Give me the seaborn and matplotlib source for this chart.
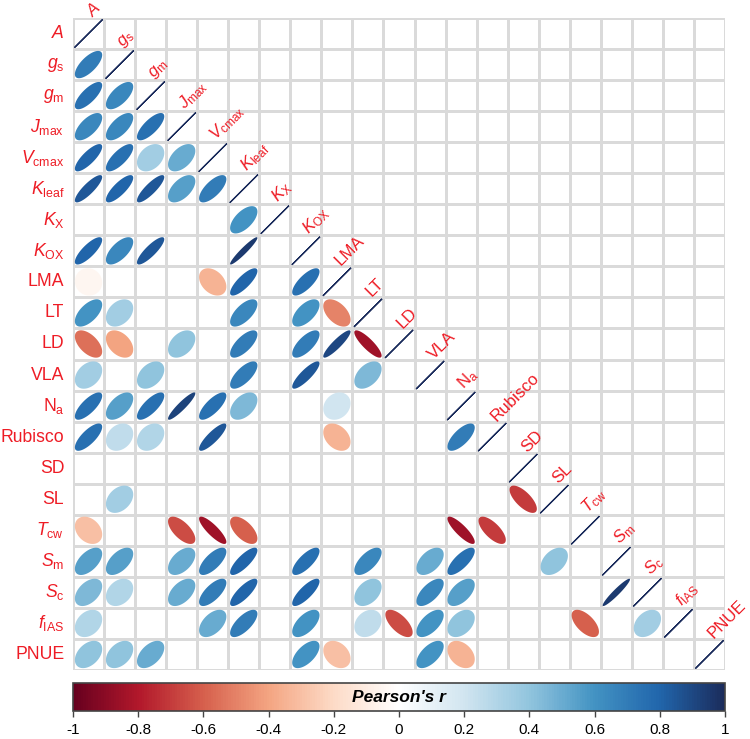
import numpy as np
import pandas as pd
import matplotlib.pyplot as plt
import seaborn as sns
from matplotlib.colors import LinearSegmentedColormap, ListedColormap, Normalize
from matplotlib.cm import ScalarMappable
from matplotlib.patches import Polygon

# variable names (row / column order)
traits = ['A', 'gs', 'gm', 'Jmax', 'Vcmax', 'Kleaf', 'KX', 'KOX', 'LMA', 'LT', 'LD',
          'VLA', 'Na', 'Rubisco', 'SD', 'SL', 'Tcw', 'Sm', 'Sc', 'fIAS', 'PNUE']
tick_labels = [r'$\mathit{A}$', r'$\mathit{g}_\mathrm{s}$', r'$\mathit{g}_\mathrm{m}$',
               r'$\mathit{J}_\mathrm{max}$', r'$\mathit{V}_\mathrm{cmax}$', r'$\mathit{K}_\mathrm{leaf}$',
               r'$\mathit{K}_\mathrm{X}$', r'$\mathit{K}_\mathrm{OX}$', 'LMA', 'LT', 'LD', 'VLA',
               r'N$_\mathrm{a}$', 'Rubisco', 'SD', 'SL', r'$\mathit{T}_\mathrm{cw}$',
               r'$\mathit{S}_\mathrm{m}$', r'$\mathit{S}_\mathrm{c}$', r'$\mathit{f}_\mathrm{IAS}$', 'PNUE']

# lower-triangle Pearson's r, one list per row (NaN = not shown)
na = np.nan
r_gs = [0.70]
r_gm = [0.75, 0.65]
r_Jmax = [0.65, 0.65, 0.75]
r_Vcmax = [0.80, 0.75, 0.35, 0.50]
r_Kleaf = [0.85, 0.80, 0.85, 0.55, 0.70]
r_KX = [na, na, na, na, na, 0.60]
r_KOX = [0.80, 0.65, 0.85, na, na, 0.95, na]
r_LMA = [-0.05, na, na, na, -0.35, 0.80, na, 0.75]
r_LT = [0.60, 0.35, na, na, na, 0.65, na, 0.60, -0.50]
r_LD = [-0.55, -0.40, na, 0.40, na, 0.70, na, 0.70, 0.90, -0.85]
r_VLA = [0.35, na, 0.40, na, na, 0.70, na, 0.85, na, 0.45, na]
r_Na = [0.75, 0.55, 0.75, 0.92, 0.75, 0.45, na, na, 0.20, na, na, na]
r_Rubisco = [0.75, 0.25, 0.30, na, 0.85, na, na, na, -0.35, na, na, na, 0.70]
r_SD = [na] * 14
r_SL = [na, 0.35, na, na, na, na, na, na, na, na, na, na, na, na, -0.70]
r_Tcw = [-0.30, na, na, -0.65, -0.85, -0.60, na, na, na, na, na, na, -0.85, -0.70, na, na]
r_Sm = [0.55, 0.55, na, 0.50, 0.70, 0.80, na, 0.75, na, 0.65, na, 0.50, 0.75, na, na, 0.40, na]
r_Sc = [0.45, 0.30, na, 0.50, 0.70, 0.80, na, 0.80, na, 0.40, na, 0.65, 0.55, na, na, na, na, 0.95]
r_fIAS = [0.30, na, na, na, 0.50, 0.70, na, 0.60, na, 0.25, -0.65, 0.60, 0.40, na, na, na, -0.60, na, 0.35]
r_PNUE = [0.40, 0.40, 0.50, na, na, na, na, 0.60, -0.30, na, na, 0.60, -0.35, na, na, na, na, na, na, na]

rows = [[], r_gs, r_gm, r_Jmax, r_Vcmax, r_Kleaf, r_KX, r_KOX, r_LMA, r_LT, r_LD, r_VLA,
        r_Na, r_Rubisco, r_SD, r_SL, r_Tcw, r_Sm, r_Sc, r_fIAS, r_PNUE]
n = len(traits)
mat = np.full((n, n), np.nan)
for i, vals in enumerate(rows):
    mat[i, :len(vals)] = vals
    mat[i, i] = 1.0
corr = pd.DataFrame(mat, index=traits, columns=traits)

plt.rcParams['font.family'] = ['Liberation Sans', 'DejaVu Sans']
plt.rcParams['mathtext.fontset'] = 'custom'
plt.rcParams['mathtext.rm'] = 'Liberation Sans'
plt.rcParams['mathtext.it'] = 'Liberation Sans:italic'

cmap = LinearSegmentedColormap.from_list('rdbu', ["#67001F", "#B2182B", "#D6604D", "#F4A582", "#FDDBC7",
                                                  "#FFFFFF", "#D1E5F0", "#92C5DE", "#4393C3", "#2166AC",
                                                  "#1B2C5C"])
norm = Normalize(-1, 1)
red = '#EE1C25'

fig = plt.figure(figsize=(7.5, 7.39), dpi=100)
ax = fig.add_axes([73 / 750, 69 / 739, 652 / 750, 652 / 739])

# white cells with grey borders for the lower triangle
mask = np.triu(np.ones((n, n), dtype=bool), k=1)
sns.heatmap(pd.DataFrame(np.zeros((n, n))), mask=mask, cmap=ListedColormap(['white']),
            cbar=False, linewidths=1.0, linecolor='#dadada', square=False,
            xticklabels=False, yticklabels=False, ax=ax)


def ellipse_pts(r, scale=0.88, k=100):
    t = np.linspace(0, 2 * np.pi, k)
    d = np.arccos(np.clip(r, -1, 1))
    return np.cos(t + d / 2) / 2 * scale, np.cos(t - d / 2) / 2 * scale


for i in range(n):
    for j in range(i + 1):
        r = corr.iat[i, j]
        if np.isnan(r):
            continue
        ex, ey = ellipse_pts(r)
        if i == j:
            ax.plot(j + 0.5 + ex, i + 0.5 - ey, color='#1B2C5C', lw=0.9)
        else:
            ax.add_patch(Polygon(np.column_stack([j + 0.5 + ex, i + 0.5 - ey]),
                                 closed=True, facecolor=cmap(norm(r)), edgecolor='none'))

for k, lab in enumerate(tick_labels):
    ax.text(-0.28, k + 0.5, lab, ha='right', va='center', color=red, fontsize=12.7)
    ax.text(k + 0.7, k + 0.07, lab, ha='left', va='bottom', color=red, fontsize=12.2,
            rotation=45, rotation_mode='anchor', clip_on=False)

ax.set_xlim(0, n)
ax.set_ylim(n, 0)
ax.axis('off')

# colour bar
cax = fig.add_axes([73 / 750, 28 / 739, 652 / 750, 28 / 739])
cb = fig.colorbar(ScalarMappable(norm=norm, cmap=cmap), cax=cax, orientation='horizontal',
                  ticks=np.linspace(-1, 1, 11))
cb.set_ticklabels(['-1', '-0.8', '-0.6', '-0.4', '-0.2', '0', '0.2', '0.4', '0.6', '0.8', '1'])
cb.outline.set_edgecolor('#444444')
cb.outline.set_linewidth(1.2)
cax.tick_params(axis='x', length=4, width=1, color='#444444', labelsize=11, pad=5)
cax.text(0.5, 0.5, "Pearson's r", transform=cax.transAxes, ha='center', va='center',
         fontsize=12.5, fontweight='bold', fontstyle='italic')

fig.savefig('out.png', dpi=100)
